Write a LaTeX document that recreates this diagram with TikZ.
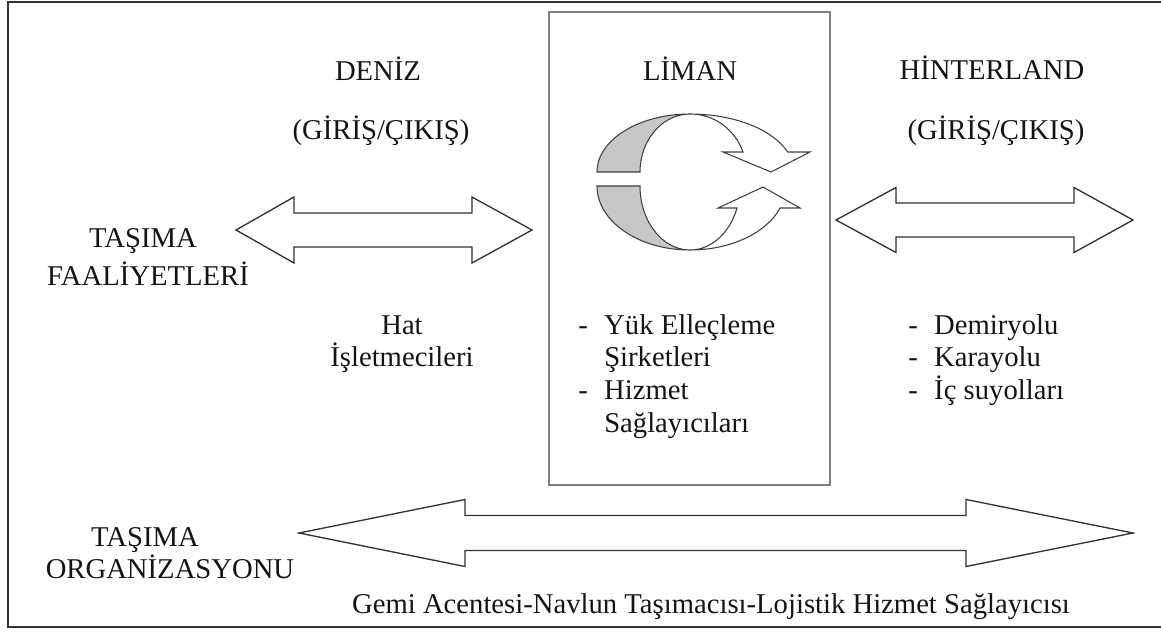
\documentclass[tikz,border=0pt]{standalone}
\usepackage{fontspec}
\setmainfont{Liberation Serif}

% Hollow double-headed block arrow:
% #1 left tip x, #2 left head back x, #3 right head back x, #4 right tip x,
% #5 centre y, #6 half height of the heads, #7 half height of the shaft
\newcommand\twoway[7]{%
  \draw[blockarrow] (#1,#5) -- (#2,#5-#6) -- (#2,#5-#7) -- (#3,#5-#7) -- (#3,#5-#6)
    -- (#4,#5) -- (#3,#5+#6) -- (#3,#5+#7) -- (#2,#5+#7) -- (#2,#5+#6) -- cycle;}

\begin{document}
\begin{tikzpicture}[x=0.75pt,y=-0.75pt,
  lbl/.style={inner sep=0pt, font=\fontsize{21.5}{25}\selectfont, text=black!92},
  blockarrow/.style={draw=black!80, line width=1pt, fill=white, line join=miter},
  band/.style={draw=black!75, line width=0.8pt, fill=white},
  shade/.style={draw=black!75, line width=0.8pt, fill=black!22},
  frameline/.style={draw=black!80, line width=1.5pt},
  portbox/.style={draw=black!50, line width=1.8pt, inner sep=0pt, anchor=north west,
    minimum width=210.75pt, minimum height=354.75pt}
]
\clip (0,0) rectangle (1161,632);

% outer frame
\draw[frameline] (8,2) rectangle (1180,627);

% port box
\node[portbox] (port) at (548,11) {};

% headings
\node[lbl, anchor=base] (deniz) at (378,80) {DENİZ};
\node[lbl, anchor=base] (denizio) at (381,139) {(GİRİŞ/ÇIKIŞ)};
\node[lbl, anchor=base] (liman) at (690,80) {LİMAN};
\node[lbl, anchor=base] (hinter) at (992,79) {HİNTERLAND};
\node[lbl, anchor=base] (hinterio) at (996,139) {(GİRİŞ/ÇIKIŞ)};

% side labels
\node[lbl, anchor=base] (tf1) at (143,247) {TAŞIMA};
\node[lbl, anchor=base] (tf2) at (148,285) {FAALİYETLERİ};
\node[lbl, anchor=base] (to1) at (145,546) {TAŞIMA};
\node[lbl, anchor=base] (to2) at (170,578) {ORGANİZASYONU};

% sea side operators
\node[lbl, anchor=base] (hat1) at (402,334) {Hat};
\node[lbl, anchor=base] (hat2) at (402,366) {İşletmecileri};

% port actors
\node[lbl, anchor=base west] (p1) at (578,334) {\makebox[19.5pt][l]{-}Yük Elleçleme};
\node[lbl, anchor=base west] (p2) at (578,366) {\hspace*{19.5pt}Şirketleri};
\node[lbl, anchor=base west] (p3) at (578,399) {\makebox[19.5pt][l]{-}Hizmet};
\node[lbl, anchor=base west] (p4) at (578,432) {\hspace*{19.5pt}Sağlayıcıları};

% hinterland modes
\node[lbl, anchor=base west] (h1) at (908,334) {\makebox[19.5pt][l]{-}Demiryolu};
\node[lbl, anchor=base west] (h2) at (908,366) {\makebox[19.5pt][l]{-}Karayolu};
\node[lbl, anchor=base west] (h3) at (908,399) {\makebox[19.5pt][l]{-}İç suyolları};

% bottom caption
\node[lbl, anchor=base] (agents) at (711,613) {Gemi Acentesi-Navlun Taşımacısı-Lojistik Hizmet Sağlayıcısı};

% block arrows
\twoway{236}{294}{472}{532}{230}{33}{17}
\twoway{836}{896}{1074}{1133}{220}{32.5}{17}
\twoway{299}{465}{966}{1133}{533}{33.5}{17.5}

% circular arrows inside the port box
% upper ribbon
\draw[band] (690,114) arc[start angle=270, end angle=339.8, x radius=104, y radius=58]
  -- (810,152) -- (771,172) -- (723,152) -- (743,152)
  arc[start angle=339.8, end angle=270, x radius=56, y radius=58] -- cycle;
\draw[shade] (597,172) arc[start angle=180, end angle=270, x radius=93, y radius=58]
  arc[start angle=270, end angle=180, x radius=50, y radius=58] -- cycle;
% lower ribbon
\draw[band] (690,250) arc[start angle=90, end angle=20.1, x radius=96, y radius=64]
  -- (800,208) -- (763,187) -- (718,208) -- (737,208)
  arc[start angle=20.1, end angle=90, x radius=50, y radius=64] -- cycle;
\draw[shade] (597,186) arc[start angle=180, end angle=90, x radius=93, y radius=64]
  arc[start angle=90, end angle=180, x radius=50, y radius=64] -- cycle;
\end{tikzpicture}
\end{document}
